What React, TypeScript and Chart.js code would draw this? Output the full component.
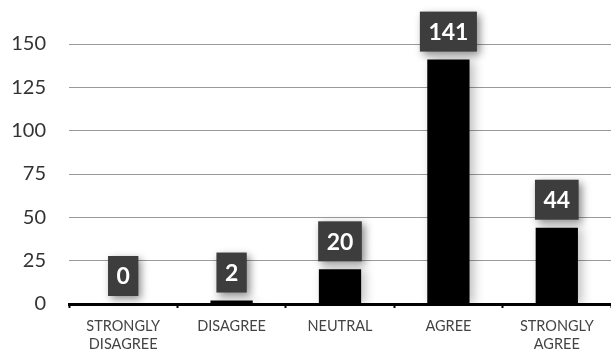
import React, { useEffect, useRef } from "react";
import { Chart, registerables } from "chart.js";

Chart.register(...registerables);

const categories: (string | string[])[] = [
  ["STRONGLY", "DISAGREE"],
  "DISAGREE",
  "NEUTRAL",
  "AGREE",
  ["STRONGLY", "AGREE"],
];
const responses = [0, 2, 20, 141, 44];
const yTicks = [0, 25, 50, 75, 100, 125, 150];

const labelBoxPlugin = {
  id: "labelBoxes",
  beforeDatasetsDraw(chart: any) {
    const ctx = chart.ctx;
    ctx.save();
    ctx.shadowColor = "rgba(0,0,0,0.25)";
    ctx.shadowBlur = 10;
    ctx.shadowOffsetX = 4;
    ctx.shadowOffsetY = 0;
  },
  afterDatasetsDraw(chart: any) {
    const ctx = chart.ctx;
    ctx.restore();
    const meta = chart.getDatasetMeta(0);
    const data = chart.data.datasets[0].data as number[];
    ctx.save();
    ctx.font = "bold 23px Lato, 'Open Sans', sans-serif";
    meta.data.forEach((bar: any, i: number) => {
      const text = String(data[i]);
      const tw = ctx.measureText(text).width;
      const w = tw + 17;
      const h = 40;
      const x = bar.x - w / 2;
      const y = bar.y - 8 - h;
      ctx.save();
      ctx.shadowColor = "rgba(0,0,0,0.45)";
      ctx.shadowBlur = 8;
      ctx.shadowOffsetX = 3;
      ctx.shadowOffsetY = 3;
      ctx.fillStyle = "#3d3d3d";
      ctx.fillRect(x, y, w, h);
      ctx.restore();
      ctx.fillStyle = "#ffffff";
      ctx.textAlign = "center";
      ctx.textBaseline = "middle";
      ctx.fillText(text, bar.x, y + h / 2 + 1);
    });
    ctx.restore();
  },
};

export default function App() {
  const ref = useRef<HTMLCanvasElement | null>(null);
  useEffect(() => {
    if (!ref.current) return;
    const chart = new Chart(ref.current, {
      type: "bar",
      data: {
        labels: categories,
        datasets: [
          {
            data: responses,
            backgroundColor: "#000000",
            borderWidth: 0,
            categoryPercentage: 1,
            barPercentage: 0.39,
          },
        ],
      },
      options: {
        animation: false,
        responsive: false,
        maintainAspectRatio: false,
        layout: { padding: { top: 44, left: 0, right: 0, bottom: 0 } },
        plugins: {
          legend: { display: false },
          tooltip: { enabled: false },
        },
        scales: {
          x: {
            afterFit: (s: any) => {
              s.height = 47;
            },
            grid: {
              drawOnChartArea: false,
              drawTicks: true,
              tickLength: 4,
              tickColor: "#000000",
              tickWidth: 2,
              offset: true,
            },
            border: { color: "#000000", width: 3 },
            ticks: {
              color: "#444444",
              padding: 9,
              font: { family: "Lato, 'Open Sans', sans-serif", size: 14.5, lineHeight: 1.25 },
              maxRotation: 0,
              autoSkip: false,
            },
          },
          y: {
            min: 0,
            max: 150,
            afterFit: (s: any) => {
              s.width = 69;
            },
            afterBuildTicks: (s: any) => {
              s.ticks = yTicks.map((v) => ({ value: v }));
            },
            grid: {
              color: "#9a9a9a",
              lineWidth: 1,
              drawTicks: false,
            },
            border: { display: false },
            ticks: {
              color: "#333333",
              padding: 23,
              font: { family: "Lato, 'Open Sans', sans-serif", size: 20 },
            },
          },
        },
      },
      plugins: [labelBoxPlugin],
    });
    return () => chart.destroy();
  }, []);
  return (
    <div style={{ position: "fixed", left: 0, top: 0, width: 611, height: 351, background: "#ffffff" }}>
      <canvas ref={ref} width={611} height={351} />
    </div>
  );
}
